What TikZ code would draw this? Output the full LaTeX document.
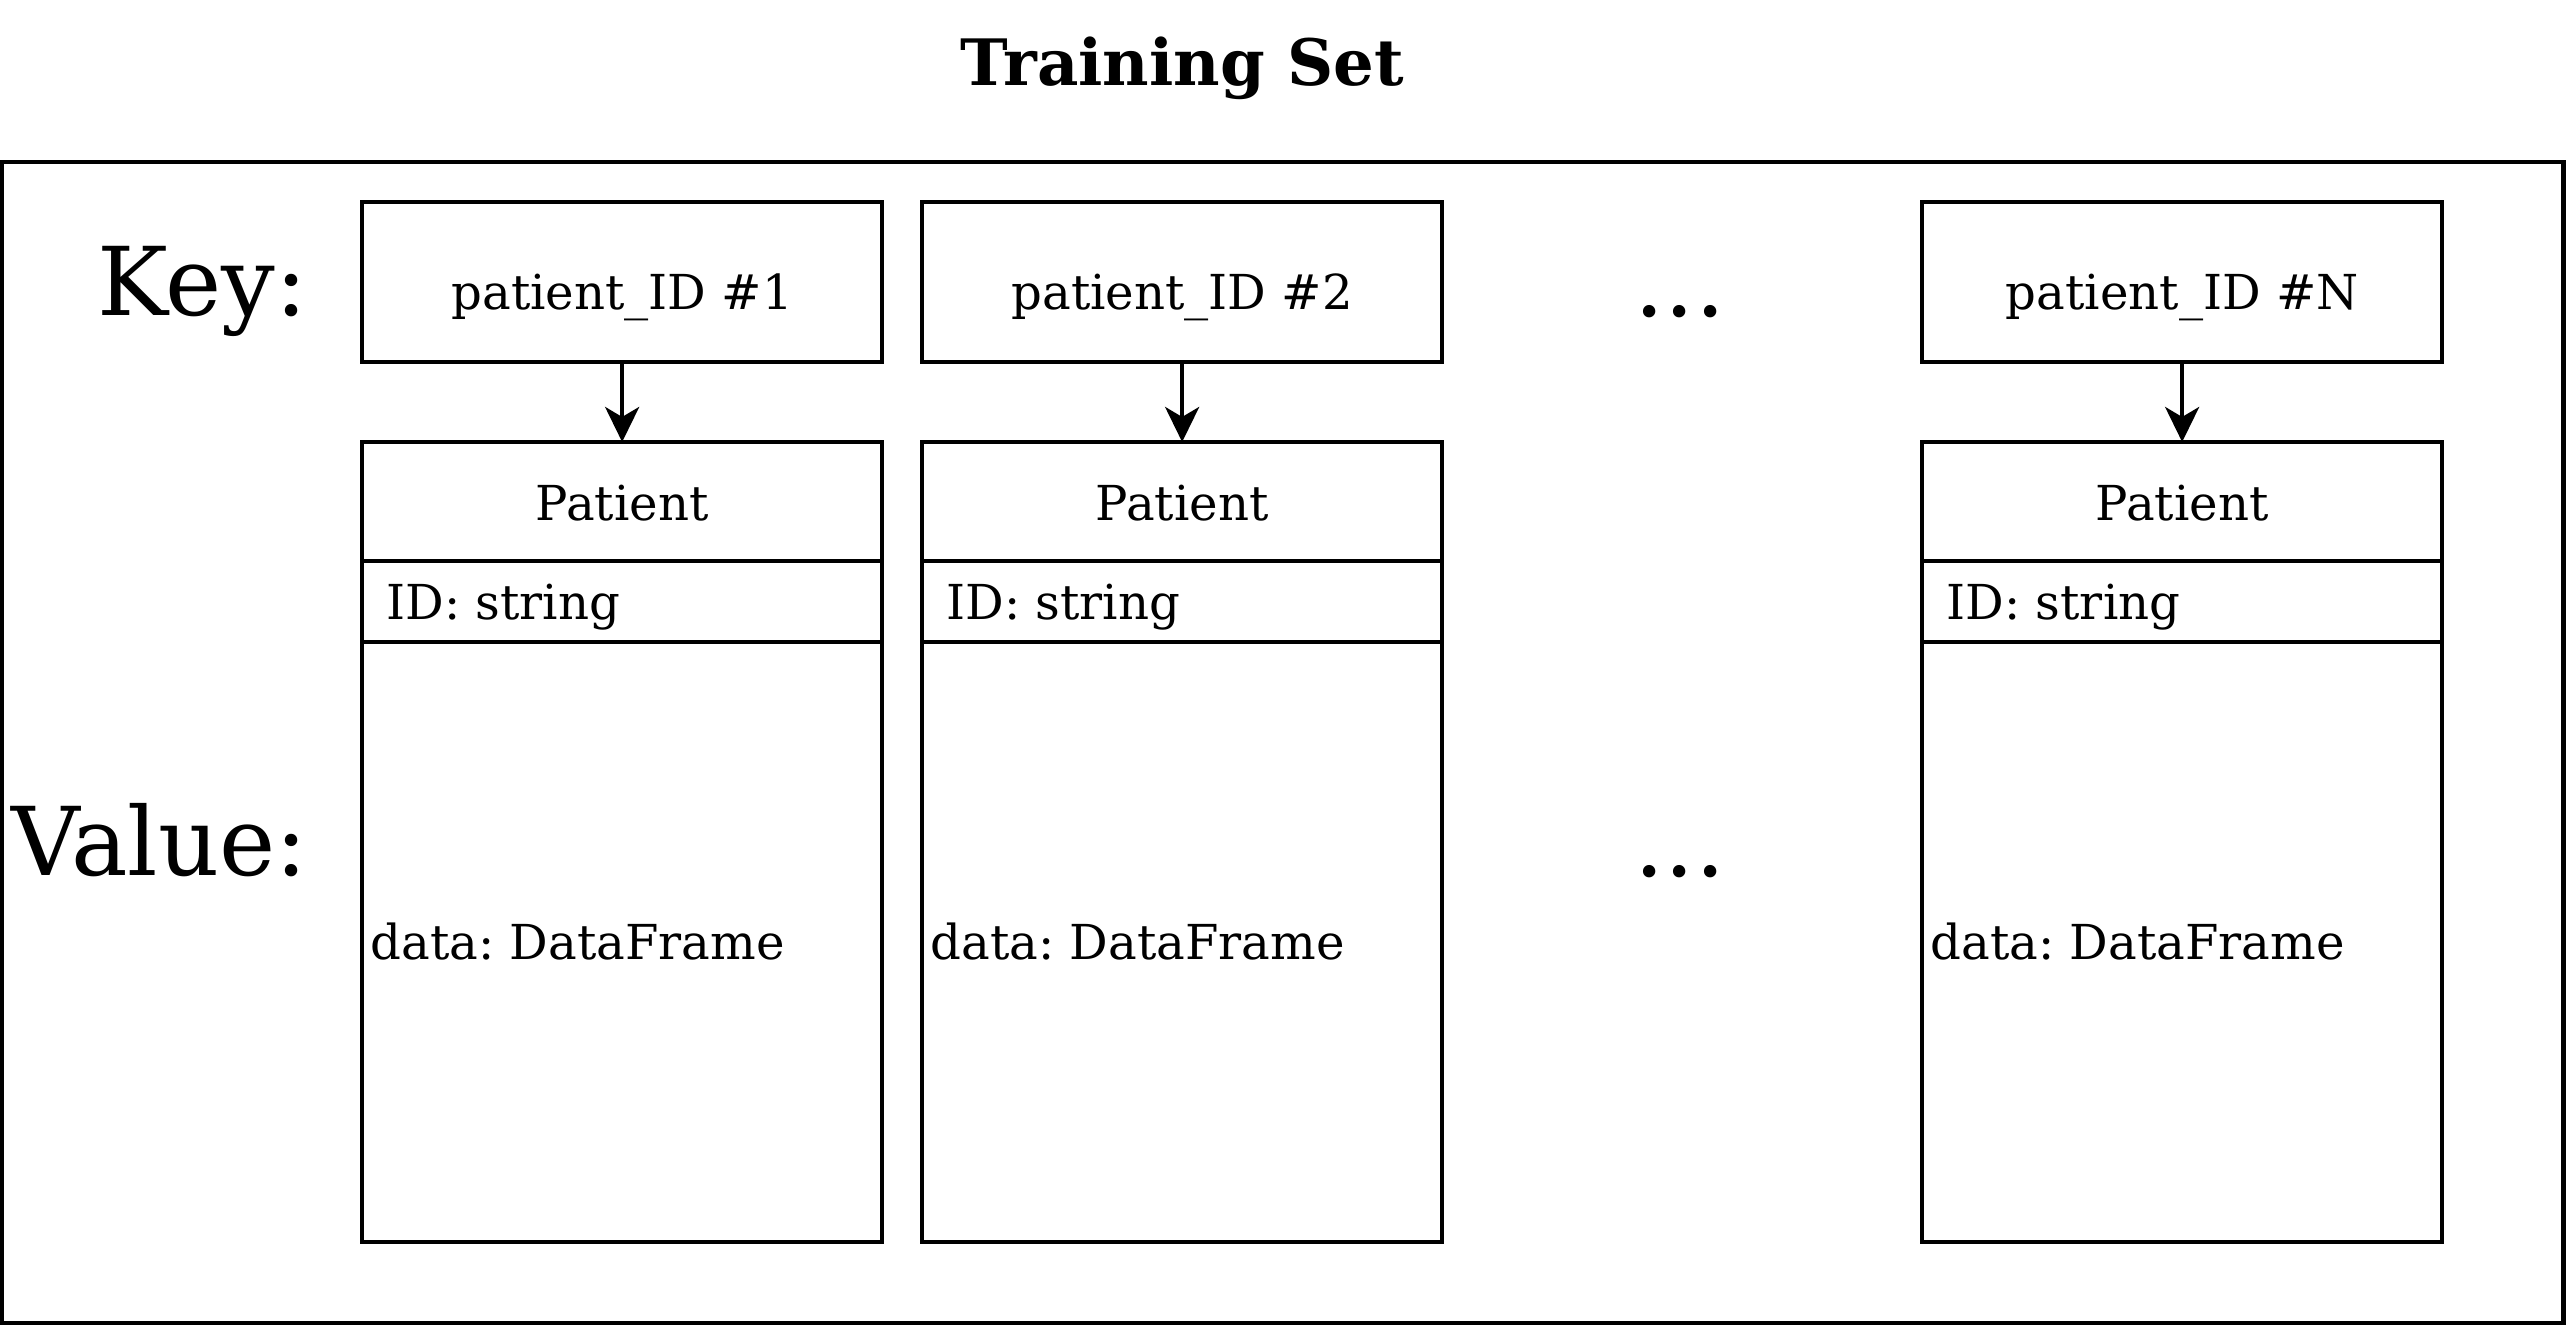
\documentclass[tikz,border=0pt]{standalone}
\usepackage{fontspec}
\setmainfont{DejaVu Serif}
\usetikzlibrary{arrows.meta}
\begin{document}
\frenchspacing
\begin{tikzpicture}[x=0.01cm,y=-0.01cm,
  frame/.style={draw, line width=1.138pt, inner sep=0pt, outer sep=0pt, anchor=north west},
  keybox/.style={frame, minimum width=5.2cm, minimum height=1.6cm, text height=0.54cm, text depth=0pt, font=\fontsize{13.7}{16}\selectfont},
  headbox/.style={frame, minimum width=5.2cm, minimum height=1.19cm, text height=0.37cm, text depth=0pt, font=\fontsize{13.7}{16}\selectfont},
  idbox/.style={frame, minimum width=5.2cm, minimum height=0.81cm},
  databox/.style={frame, minimum width=5.2cm, minimum height=6.0cm},
  small/.style={font=\fontsize{13.7}{16}\selectfont, inner sep=0pt},
  big/.style={font=\fontsize{27}{32}\selectfont, inner sep=0pt},
  arr/.style={line width=1.138pt, -{Stealth[length=0.35cm,width=0.34cm,inset=0.1cm]}}]
\useasboundingbox (0,0) rectangle (2568,1328);
\node[anchor=base, inner sep=0pt, font=\bfseries\fontsize{18.2}{22}\selectfont] (title) at (1182,86) {Training Set};
\node[frame, minimum width=25.6cm, minimum height=11.6cm] (outer) at (2,162) {};
\node[big, anchor=base east] (keylbl) at (308,316) {Key:};
\node[big, anchor=base east] (vallbl) at (308,876) {Value:};
\node[big, anchor=base] (dots1) at (1680,317) {...};
\node[big, anchor=base] (dots2) at (1680,877) {...};
% column 1
\node[keybox] (k1) at (362,202) {patient\_ID \#1};
\node[headbox] (p1) at (362,442) {Patient};
\node[idbox] (i1) at (362,561) {};
\node[databox] (d1) at (362,642) {};
\node[small, anchor=base west] (it1) at (386,620) {ID: string};
\node[small, anchor=base west] (dt1) at (370,960) {data: DataFrame};
\draw[arr] (k1.south) -- (p1.north);
% column 2
\node[keybox] (k2) at (922,202) {patient\_ID \#2};
\node[headbox] (p2) at (922,442) {Patient};
\node[idbox] (i2) at (922,561) {};
\node[databox] (d2) at (922,642) {};
\node[small, anchor=base west] (it2) at (946,620) {ID: string};
\node[small, anchor=base west] (dt2) at (930,960) {data: DataFrame};
\draw[arr] (k2.south) -- (p2.north);
% column N
\node[keybox] (kN) at (1922,202) {patient\_ID \#N};
\node[headbox] (pN) at (1922,442) {Patient};
\node[idbox] (iN) at (1922,561) {};
\node[databox] (dN) at (1922,642) {};
\node[small, anchor=base west] (itN) at (1946,620) {ID: string};
\node[small, anchor=base west] (dtN) at (1930,960) {data: DataFrame};
\draw[arr] (kN.south) -- (pN.north);
\end{tikzpicture}
\end{document}
